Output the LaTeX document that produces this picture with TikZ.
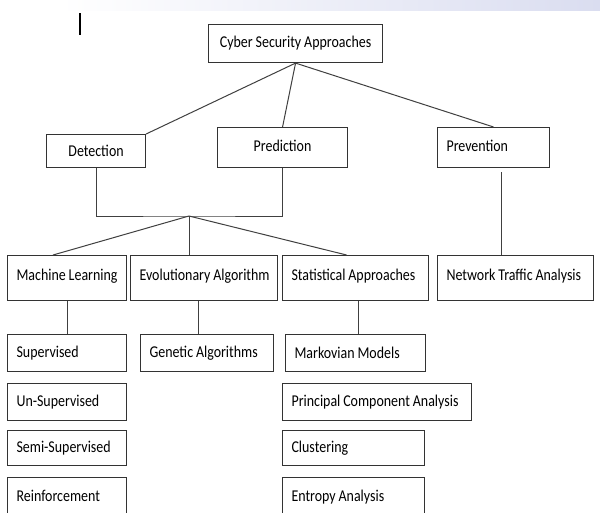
\documentclass[tikz,border=0pt]{standalone}
\usepackage{fontspec}
\setmainfont[FakeStretch=0.845]{Carlito}
\usetikzlibrary{calc,positioning}
\definecolor{bandblue}{RGB}{218,221,240}
\newcommand\boxfont{\fontsize{16.5}{19}\selectfont\hyphenpenalty=10000\relax}
\tikzset{
	box/.style={draw=black!80, line width=1.1pt, anchor=north west, inner xsep=9pt, inner ysep=0pt, align=left, font=\boxfont,
		execute at begin node={\spaceskip 2.9pt plus 0.5pt minus 0.5pt\relax}},
	link/.style={draw=black!75, line width=1pt}
}

\begin{document}
\begin{tikzpicture}[x=1pt, y=-1pt]
			%%%%% START %%%%%
			
			\clip (0, 0) rectangle (600, 512);
			\fill[white] (0, 0) rectangle (600, 512);
			\shade[left color=white, right color=bandblue] (60, 0) rectangle (600, 10);
			\draw[line width=1.3pt] (80, 13) -- (80, 35);
			
			\node[box, align=center, minimum width=174, minimum height=38, text width=156] (root) at (208, 24) {Cyber Security Approaches};
			
			\node[box, align=center, minimum width=99, minimum height=33, text width=81] (det) at (46, 134) {Detection};
			\node[box, align=center, minimum width=130, minimum height=40, text width=112] (pred) at (217, 127) {\raisebox{3pt}{Prediction}};
			\node[box, minimum width=112, minimum height=40, text width=94] (prev) at (437, 127) {\raisebox{3pt}{Prevention}};
			
			\draw[link] (root.south) -- (det.north east);
			\draw[link] (root.south) -- (pred.north);
			\draw[link] (root.south) -- (prev.north);
			
			\coordinate (jn) at (189, 216);
			\draw[link] (det.south) |- (jn) -| (pred.south);
			
			\node[box, minimum width=119, minimum height=45, text width=101] (ml) at (7, 255) {\raisebox{6pt}{Machine Learning}};
			\node[box, minimum width=147, minimum height=45, text width=129] (evo) at (130, 255) {\raisebox{6pt}{Evolutionary Algorithm}};
			\node[box, minimum width=146, minimum height=45, text width=128] (stat) at (282, 255) {\raisebox{6pt}{Statistical Approaches}};
			\node[box, minimum width=156, minimum height=45, text width=138] (nta) at (437, 255) {\raisebox{6pt}{Network Traffic Analysis}};
			
			\draw[link] (jn) -- ([xshift=-14]ml.north);
			\draw[link] (jn) -- (jn |- evo.north);
			\draw[link] (jn) -- ([xshift=-9]stat.north);
			
			\coordinate (pv) at (501, 172);
			\draw[link] (pv) -- (pv |- nta.north);
			
			\node[box, minimum width=119, minimum height=37, text width=101] (sup) at (7, 334) {Supervised};
			\node[box, minimum width=119, minimum height=37, text width=101] (uns) at (7, 383) {Un-Supervised};
			\node[box, minimum width=119, minimum height=35, text width=101] (semi) at (7, 430) {Semi-Supervised};
			\node[box, minimum width=119, minimum height=40, text width=101] (rein) at (7, 477) {\raisebox{4pt}{Reinforcement}};
			
			\node[box, minimum width=133, minimum height=37, text width=115] (gen) at (140, 334) {Genetic Algorithms};
			
			\node[box, minimum width=140, minimum height=37, text width=122] (mark) at (285, 334) {Markovian Models};
			\node[box, minimum width=189, minimum height=37, text width=171] (pca) at (282, 383) {Principal Component Analysis};
			\node[box, minimum width=142, minimum height=35, text width=124] (clus) at (282, 430) {Clustering};
			\node[box, minimum width=142, minimum height=40, text width=124] (ent) at (282, 477) {\raisebox{4pt}{Entropy Analysis}};
			
			\draw[link] (ml.south) -- (ml.south |- sup.north);
			\draw[link] ([xshift=-6]evo.south) -- ([xshift=-6]evo.south |- gen.north);
			\draw[link] ([xshift=3]stat.south) -- ([xshift=3]stat.south |- mark.north);
			
			%%%%% END %%%%%
\end{tikzpicture}
\end{document}
